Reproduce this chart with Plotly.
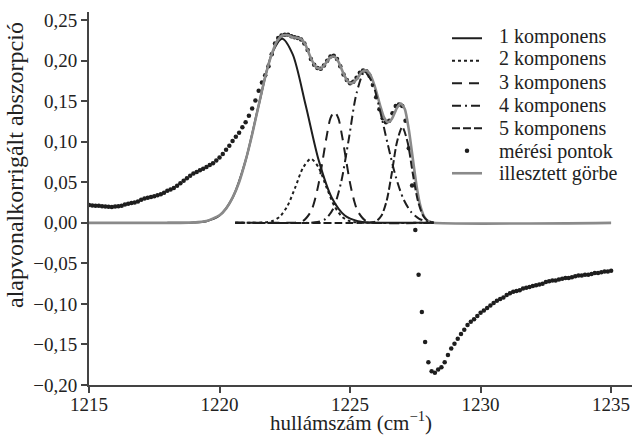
import plotly.graph_objects as go

meas_x0 = 1215.0
meas_step = 0.125
meas_y = [
    0.0220, 0.0215, 0.0210, 0.0212, 0.0205, 0.0200, 0.0198, 0.0196,
    0.0200, 0.0205, 0.0212, 0.0225, 0.0236, 0.0245, 0.0252, 0.0262,
    0.0285, 0.0300, 0.0310, 0.0318, 0.0328, 0.0340, 0.0352, 0.0370,
    0.0395, 0.0410, 0.0430, 0.0458, 0.0488, 0.0520, 0.0550, 0.0580,
    0.0608, 0.0628, 0.0648, 0.0668, 0.0690, 0.0712, 0.0735, 0.0770,
    0.0805, 0.0850, 0.0900, 0.0950, 0.1010, 0.1060, 0.1110, 0.1180,
    0.1240, 0.1320, 0.1410, 0.1510, 0.1630, 0.1730, 0.1820, 0.1930,
    0.2080, 0.2210, 0.2280, 0.2310, 0.2320, 0.2320, 0.2300, 0.2290,
    0.2280, 0.2260, 0.2210, 0.2130, 0.2020, 0.1950, 0.1910, 0.1900,
    0.1940, 0.2000, 0.2050, 0.2060, 0.2020, 0.1930, 0.1830, 0.1760,
    0.1720, 0.1740, 0.1790, 0.1850, 0.1880, 0.1870, 0.1810, 0.1700,
    0.1550, 0.1400, 0.1290, 0.1240, 0.1260, 0.1350, 0.1440, 0.1460,
    0.1440, 0.1260, 0.0920, 0.0460, -0.0090, -0.0640, -0.1100, -0.1470,
    -0.1720, -0.1830, -0.1850, -0.1810, -0.1780, -0.1720, -0.1630, -0.1550,
    -0.1490, -0.1430, -0.1370, -0.1320, -0.1260, -0.1220, -0.1190, -0.1150,
    -0.1110, -0.1080, -0.1050, -0.1020, -0.0990, -0.0960, -0.0940, -0.0920,
    -0.0890, -0.0870, -0.0850, -0.0840, -0.0830, -0.0810, -0.0800, -0.0790,
    -0.0780, -0.0770, -0.0760, -0.0750, -0.0730, -0.0720, -0.0710, -0.0710,
    -0.0700, -0.0690, -0.0680, -0.0680, -0.0670, -0.0660, -0.0650, -0.0650,
    -0.0640, -0.0640, -0.0630, -0.0620, -0.0620, -0.0610, -0.0600, -0.0600,
    -0.0590,
]
meas_x = [round(meas_x0 + meas_step * i, 3) for i in range(len(meas_y))]

# fitted curve (grey)
fit_x = [1215.0, 1218.5, 1219.0, 1219.5, 1220.0, 1220.25, 1220.5, 1220.75, 1221.0, 1221.25,
         1221.5, 1221.75, 1222.0, 1222.2, 1222.4, 1222.6, 1222.8, 1223.0, 1223.15, 1223.3,
         1223.5, 1223.7, 1223.88, 1224.05, 1224.25, 1224.4, 1224.55, 1224.75, 1224.9, 1225.05,
         1225.25, 1225.45, 1225.6, 1225.75, 1225.95, 1226.15, 1226.3, 1226.45, 1226.6, 1226.8,
         1226.95, 1227.1, 1227.25, 1227.4, 1227.55, 1227.7, 1227.85, 1228.0, 1228.2, 1235.0]
fit_y = [0.0, 0.0, 0.0004, 0.0022, 0.0093, 0.0175, 0.031, 0.050, 0.077, 0.109,
         0.145, 0.180, 0.208, 0.224, 0.231, 0.2315, 0.229, 0.228, 0.226, 0.219,
         0.203, 0.192, 0.190, 0.196, 0.204, 0.205, 0.199, 0.184, 0.175, 0.172,
         0.177, 0.186, 0.188, 0.184, 0.168, 0.145, 0.130, 0.124, 0.128, 0.142,
         0.147, 0.140, 0.115, 0.080, 0.045, 0.020, 0.007, 0.002, 0.0, 0.0]

# component 1 (solid)
c1_x = [1218.0, 1219.0, 1219.5, 1220.0, 1220.5, 1221.0, 1221.5, 1222.0, 1222.4, 1222.8,
        1223.3, 1223.8, 1224.3, 1224.8, 1225.3, 1225.8, 1226.5, 1228.2]
c1_y = [0.0, 0.0004, 0.002, 0.009, 0.031, 0.077, 0.145, 0.208, 0.227, 0.208,
        0.145, 0.077, 0.031, 0.009, 0.002, 0.0004, 0.0, 0.0]

# component 2 (dotted)
c2_x = [1220.6, 1221.4, 1221.7, 1222.0, 1222.3, 1222.6, 1222.9, 1223.2, 1223.5, 1223.8,
        1224.1, 1224.4, 1224.7, 1225.0, 1225.3, 1225.8, 1228.2]
c2_y = [0.0, 0.0, 0.0004, 0.0019, 0.0073, 0.0207, 0.0436, 0.068, 0.079, 0.068,
        0.0436, 0.0207, 0.0073, 0.0019, 0.0004, 0.0, 0.0]

# component 3 (dashed)
c3_x = [1220.6, 1222.6, 1222.9, 1223.2, 1223.5, 1223.65, 1223.8, 1223.95, 1224.1, 1224.25,
        1224.4, 1224.55, 1224.7, 1224.85, 1225.0, 1225.15, 1225.3, 1225.6, 1225.9, 1228.2]
c3_y = [0.0, 0.0, 0.0002, 0.0023, 0.0139, 0.028, 0.049, 0.077, 0.106, 0.129,
        0.137, 0.129, 0.106, 0.077, 0.049, 0.028, 0.0139, 0.0023, 0.0002, 0.0]

# component 4 (dash-dot)
c4_x = [1220.6, 1223.4, 1223.75, 1224.05, 1224.35, 1224.65, 1224.95, 1225.25, 1225.55, 1225.85,
        1226.15, 1226.45, 1226.75, 1227.05, 1227.35, 1227.65, 1227.95, 1228.2]
c4_y = [0.0, 0.0, 0.001, 0.0045, 0.017, 0.049, 0.103, 0.160, 0.186, 0.173,
        0.138, 0.096, 0.057, 0.029, 0.013, 0.005, 0.0016, 0.0]

# component 5 (long dashes)
c5_x = [1220.6, 1225.6, 1225.8, 1226.0, 1226.2, 1226.4, 1226.6, 1226.8, 1227.0, 1227.2,
        1227.4, 1227.6, 1227.8, 1228.0, 1228.2]
c5_y = [0.0, 0.0, 0.0003, 0.002, 0.0087, 0.027, 0.0615, 0.100, 0.118, 0.100,
        0.0615, 0.027, 0.0087, 0.002, 0.0]

names = ["1 komponens", "2 komponens", "3 komponens", "4 komponens", "5 komponens",
         "mérési pontok", "illesztett görbe"]
y_ticks = [-0.20, -0.15, -0.10, -0.05, 0.00, 0.05, 0.10, 0.15, 0.20, 0.25]
x_ticks = [1215, 1220, 1225, 1230, 1235]

FONT = "Liberation Serif"
INK = "#1e1e1e"
TXT = "#222222"
AXIS = "#444444"
GREY = "#8a8a8a"

# plot box in pixels (for placing the legend labels and titles)
W, H = 634, 436
ML, MR, MT, MB = 89, 2, 12, 51
PW, PH = W - ML - MR, H - MT - MB


def px_x(p):
    return (p - ML) / PW


def px_y(p):
    return (H - MB - p) / PH


fig = go.Figure()

fig.add_trace(go.Scatter(x=meas_x, y=meas_y, mode="markers", name="", legendrank=6,
                         meta=names[5],
                         marker=dict(color=INK, size=4.5, line=dict(width=0))))
fig.add_trace(go.Scatter(x=c1_x, y=c1_y, mode="lines", name="", legendrank=1, meta=names[0],
                         line=dict(color=INK, width=2, shape="spline", smoothing=0.8)))
fig.add_trace(go.Scatter(x=fit_x, y=fit_y, mode="lines", name="", legendrank=7, meta=names[6],
                         line=dict(color=GREY, width=2.6, shape="spline", smoothing=0.6)))
fig.add_trace(go.Scatter(x=c2_x, y=c2_y, mode="lines", name="", legendrank=2, meta=names[1],
                         line=dict(color=INK, width=2, dash="dot", shape="spline", smoothing=0.8)))
fig.add_trace(go.Scatter(x=c3_x, y=c3_y, mode="lines", name="", legendrank=3, meta=names[2],
                         line=dict(color=INK, width=2, dash="10px,7px", shape="spline", smoothing=0.8)))
fig.add_trace(go.Scatter(x=c4_x, y=c4_y, mode="lines", name="", legendrank=4, meta=names[3],
                         line=dict(color=INK, width=2, dash="9px,4px,2px,4px", shape="spline", smoothing=0.8)))
fig.add_trace(go.Scatter(x=c5_x, y=c5_y, mode="lines", name="", legendrank=5, meta=names[4],
                         line=dict(color=INK, width=2, dash="8px,3px", shape="spline", smoothing=0.8)))

# legend labels (texts placed next to the legend samples)
legend_rows_px = [36 + 23 * i for i in range(len(names))]
annotations = [dict(text=n, xref="paper", yref="paper", x=px_x(497), y=px_y(py),
                    xanchor="left", yanchor="middle", showarrow=False,
                    font=dict(family=FONT, size=20, color=TXT))
               for n, py in zip(names, legend_rows_px)]
annotations.append(dict(text="alapvonalkorrigált abszorpció", textangle=-90,
                        xref="paper", yref="paper", x=px_x(15), y=px_y(165),
                        xanchor="center", yanchor="middle", showarrow=False,
                        font=dict(family=FONT, size=24, color=TXT)))
annotations.append(dict(text="hullámszám (cm<sup>−1</sup>)",
                        xref="paper", yref="paper", x=px_x(351), y=px_y(421),
                        xanchor="center", yanchor="middle", showarrow=False,
                        font=dict(family=FONT, size=21, color=TXT)))

fig.update_layout(
    width=W, height=H,
    margin=dict(l=ML, r=MR, t=MT, b=MB),
    paper_bgcolor="white", plot_bgcolor="white",
    separators=", ",
    font=dict(family=FONT, size=19, color=TXT),
    showlegend=True,
    legend=dict(x=px_x(447), y=px_y(22), xanchor="left", yanchor="top",
                bgcolor="rgba(0,0,0,0)", font=dict(family=FONT, size=15, color=TXT),
                tracegroupgap=0),
    xaxis=dict(range=[1215, 1235.8], tickvals=x_ticks, ticktext=[str(v) for v in x_ticks],
               showgrid=False, zeroline=False, showline=True, linecolor=AXIS, linewidth=2,
               ticks="outside", ticklen=6, tickwidth=1.5, tickcolor=AXIS,
               ticklabelstandoff=-5),
    yaxis=dict(range=[-0.20, 0.26], tickvals=y_ticks, tickformat=".2f",
               showgrid=False, zeroline=False, showline=True, linecolor=AXIS, linewidth=2,
               ticks="outside", ticklen=6, tickwidth=1.5, tickcolor=AXIS),
    annotations=annotations,
)

fig.write_html("out.html", config={"displayModeBar": False},
               post_script="document.body.style.margin='0px';")
